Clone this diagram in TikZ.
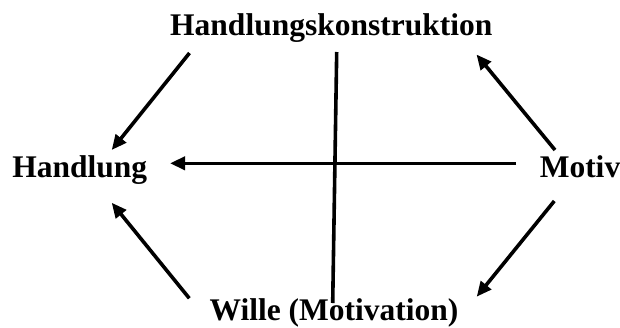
\documentclass[tikz,border=0pt]{standalone}
\usepackage{fontspec}
\setmainfont{Liberation Serif}
\usetikzlibrary{arrows.meta}
\begin{document}
\begin{tikzpicture}[x=1pt,y=-1pt,
  lbl/.style={inner sep=0pt,anchor=base,font=\fontsize{31.5}{36}\selectfont\bfseries},
  conn/.style={line width=3.6pt},
  arr/.style={conn,-{Triangle[length=15pt,width=13pt]}}]
\useasboundingbox (0,0) rectangle (620,327);
\node[lbl] (hk) at (331.3,35) {Handlungskonstruktion};
\node[lbl] (h) at (79.7,177) {Handlung};
\node[lbl] (m) at (580,177) {Motiv};
\node[lbl] (w) at (334,320) {Wille (Motivation)};
% connector ends
\coordinate (hkL) at (189.5,53);
\coordinate (hkV) at (336.7,52);
\coordinate (hkR) at (476.5,54.5);
\coordinate (hT) at (111.7,150);
\coordinate (hM) at (170,163.3);
\coordinate (hB) at (111.7,202.7);
\coordinate (mT) at (555,150);
\coordinate (mM) at (516,163.3);
\coordinate (mB) at (554.3,201);
\coordinate (wL) at (189.3,298.3);
\coordinate (wV) at (332.7,303);
\coordinate (wR) at (476.7,296.7);
\draw[arr] (hkL) -- (hT);
\draw[arr] (wL) -- (hB);
\draw[arr] (mT) -- (hkR);
\draw[arr] (mB) -- (wR);
\draw[arr] (mM) -- (hM);
\draw[conn] (hkV) -- (wV);
\end{tikzpicture}
\end{document}
